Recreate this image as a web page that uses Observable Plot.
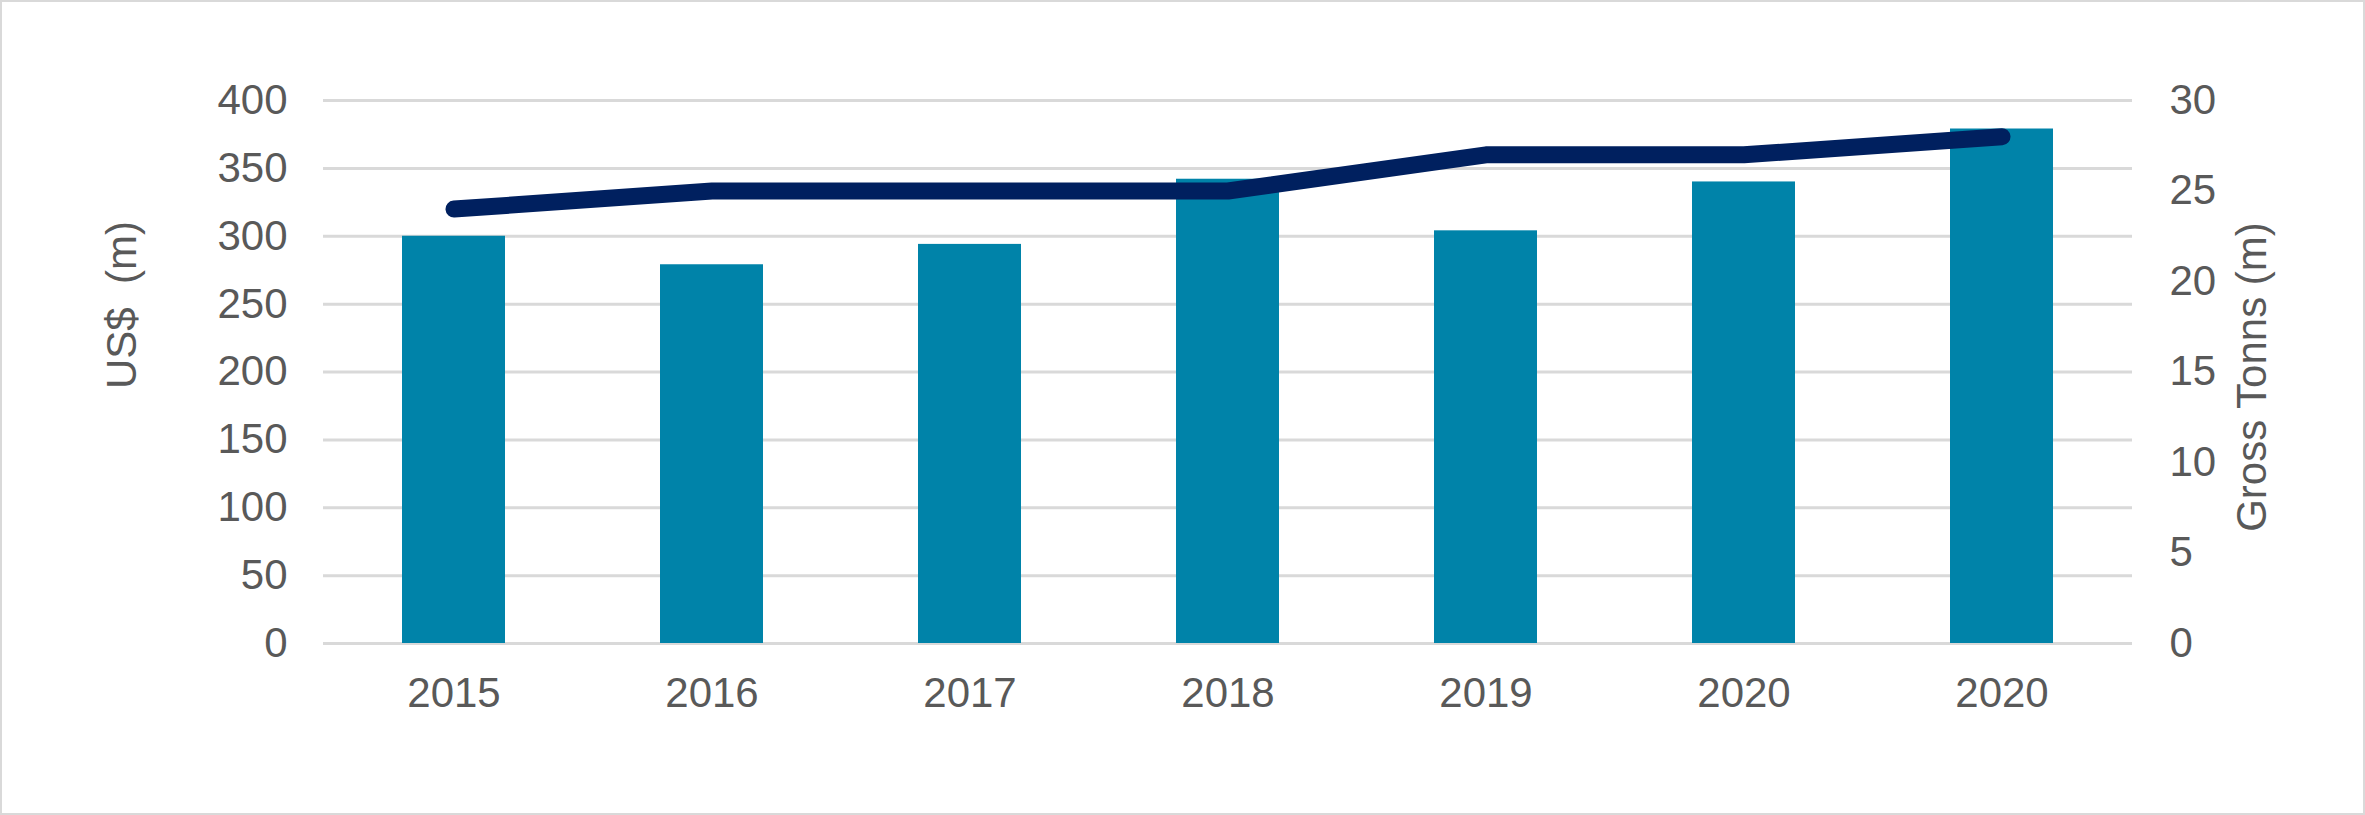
<!DOCTYPE html>
<html>
<head>
<meta charset="utf-8">
<script src="https://cdn.jsdelivr.net/npm/d3@7"></script>
<script src="https://cdn.jsdelivr.net/npm/@observablehq/plot@0.6"></script>
<style>
  html, body { margin: 0; padding: 0; background: #fff; }
  #chart svg { display: block; outline: 2px solid #d9d9d9; outline-offset: -2px; }
</style>
</head>
<body>
<div id="chart"></div>
<script>
// Categories (x tick labels)
const years = ["2015", "2016", "2017", "2018", "2019", "2020", "2020"];
// Bars: US$ (m), left axis
const usd = [300, 279, 294, 342, 304, 340, 379];
// Line: Gross Tonns (m), right axis
const tonns = [24, 25, 25, 25, 27, 27, 28];
// Axis ticks
const leftTicks = [0, 50, 100, 150, 200, 250, 300, 350, 400];
const rightTicks = [0, 5, 10, 15, 20, 25, 30];
const leftTitle = "US$  (m)";
const rightTitle = "Gross Tonns (m)";

const idx = years.map((_, i) => i);
const rows = idx.map(i => ({i, year: years[i], usd: usd[i], tonns: tonns[i]}));

// secondary axis mapped into primary y space
const yR = d3.scaleLinear().domain([0, 30]).range([0, 400]);

const textColor = "#595959";
const grid = "#d9d9d9";

const chart = Plot.plot({
  width: 2365,
  height: 815,
  marginLeft: 323,
  marginRight: 233,
  marginTop: 100,
  marginBottom: 172,
  style: {
    fontFamily: "'Liberation Sans', Arial, sans-serif",
    fontSize: "42px",
    color: textColor,
    background: "#fff"
  },
  x: {type: "band", domain: idx, paddingInner: 0.6, paddingOuter: 0.3},
  y: {domain: [0, 400]},
  marks: [
    Plot.ruleY(leftTicks, {stroke: grid, strokeWidth: 3}),
    Plot.barY(rows, {x: "i", y: "usd", fill: "#0083A9"}),
    Plot.lineY(rows, {
      x: "i", y: d => yR(d.tonns),
      stroke: "#00205F", strokeWidth: 17,
      strokeLinecap: "round", strokeLinejoin: "round"
    }),
    Plot.axisY({anchor: "left", ticks: leftTicks, tickSize: 0, tickPadding: 36, label: null}),
    Plot.axisY({
      anchor: "right", ticks: rightTicks.map(v => yR(v)),
      tickFormat: d => Math.round(yR.invert(d)),
      tickSize: 0, tickPadding: 37, label: null
    }),
    Plot.axisX({tickSize: 0, tickPadding: 34, tickFormat: i => years[i], label: null}),
    Plot.text([leftTitle], {
      text: d => d, frameAnchor: "left", rotate: -90,
      dx: -201, dy: -67, fill: textColor, textAnchor: "middle", lineAnchor: "middle"
    }),
    Plot.text([rightTitle], {
      text: d => d, frameAnchor: "right", rotate: -90,
      dx: 120, dy: 5, fill: textColor, textAnchor: "middle", lineAnchor: "middle"
    })
  ]
});

document.getElementById("chart").appendChild(chart);
</script>
</body>
</html>
